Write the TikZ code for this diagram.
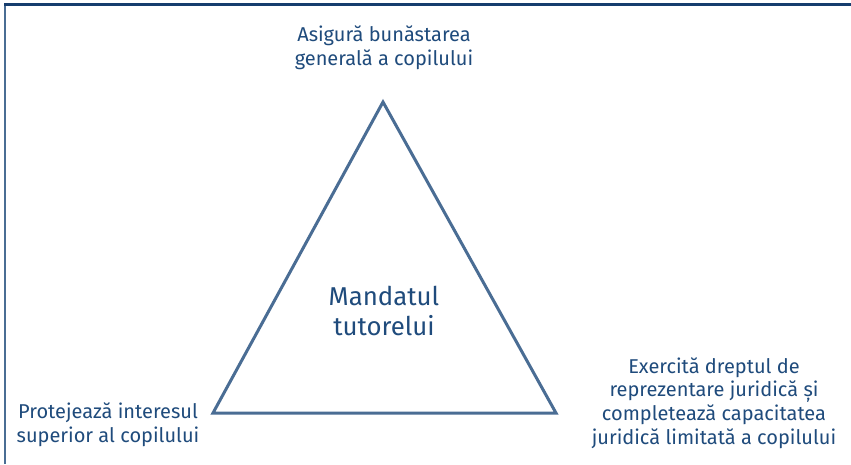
\documentclass[tikz,border=0pt]{standalone}
\usepackage{fontspec}
\setmainfont{Fira Sans}
\definecolor{tribl}{HTML}{4A6D94}
\definecolor{txtbl}{HTML}{1F4B7C}
\definecolor{topbl}{HTML}{163D6E}
\tikzset{
  lbl/.style={text=txtbl,align=center,font=\fontsize{20}{23.8}\selectfont,inner sep=0pt},
  mid/.style={text=txtbl,align=center,font=\fontsize{25.8}{30.5}\selectfont,inner sep=0pt}
}
\begin{document}
\begin{tikzpicture}[x=1pt,y=-1pt]
\useasboundingbox (0,0) rectangle (851,464);
\fill[white] (0,0) rectangle (851,464);
% frame
\draw [line width=2pt,color=tribl] (5,464) -- (5,4.5);
\draw [line width=2.2pt,color=topbl] (4,4.5) -- (851,4.5);
% triangle
\coordinate (A) at (383,102);
\coordinate (B) at (213,413);
\coordinate (C) at (556,413);
\draw [line width=3pt,color=tribl,line join=miter] (A) -- (B) -- (C) -- cycle;
\node[lbl] (bun) at (384,48) {Asigură bunăstarea\\generală a copilului};
\node[lbl] (inter) at (108,425) {Protejează interesul\\superior al copilului};
\node[lbl] (repr) at (714,403) {Exercită dreptul de\\reprezentare juridică și\\completează capacitatea\\juridică limitată a copilului};
\node[mid] (mand) at (384,311) {Mandatul\\tutorelui};
\end{tikzpicture}
\end{document}
